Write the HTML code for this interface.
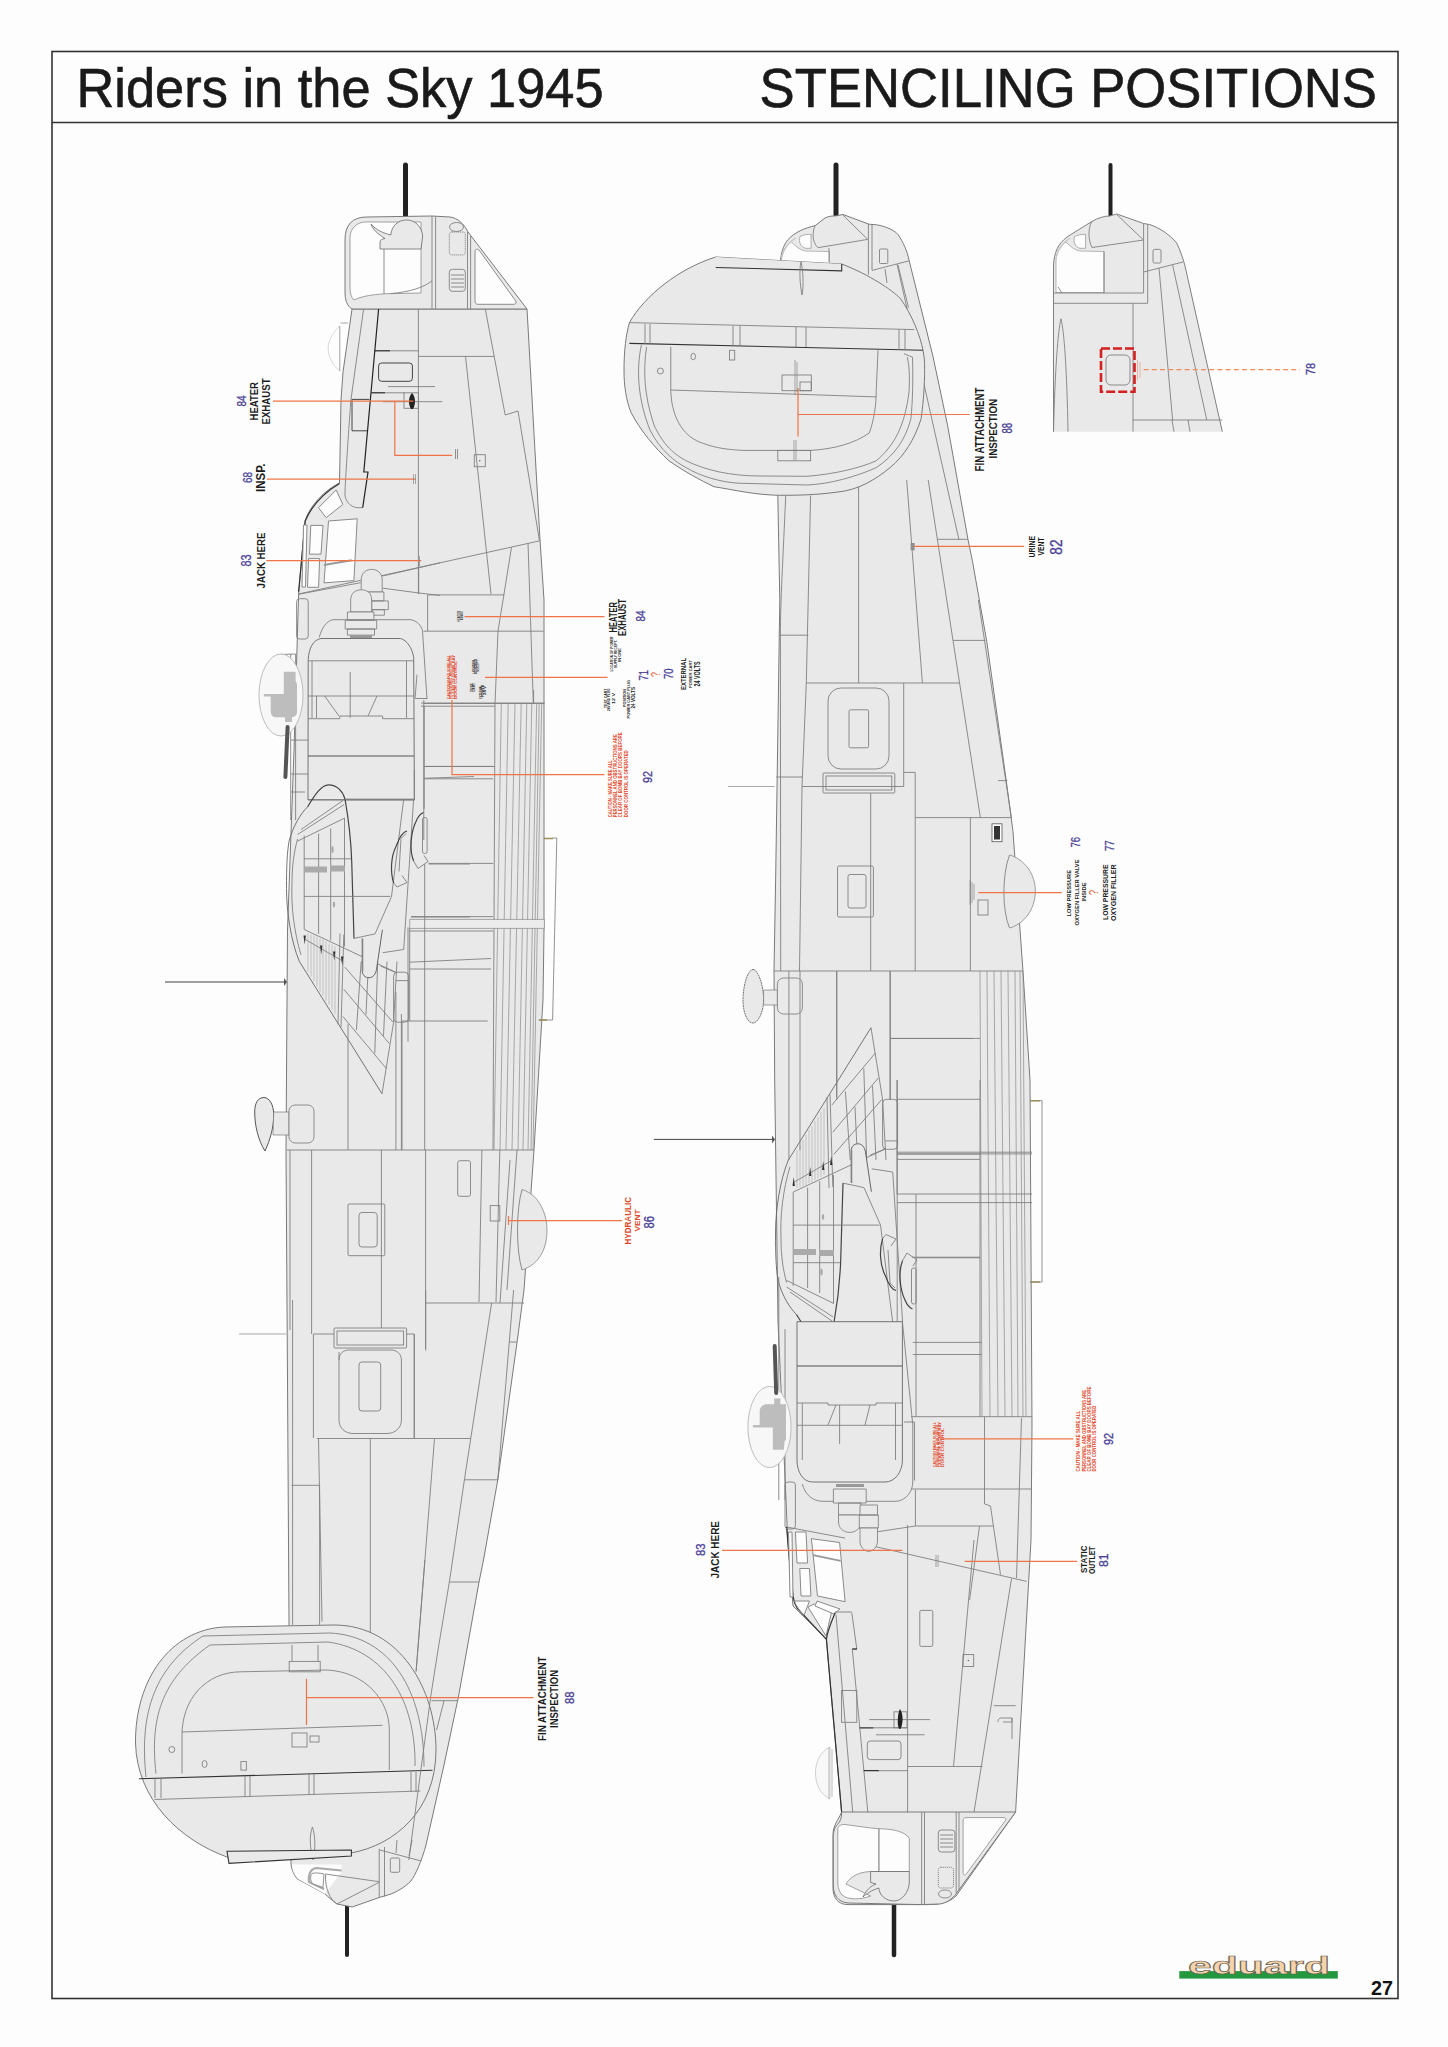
<!DOCTYPE html>
<html><head><meta charset="utf-8">
<style>
html,body{margin:0;padding:0;background:#fdfdfd;}
body{width:1448px;height:2047px;overflow:hidden;position:relative;}
svg{position:absolute;left:0;top:0;}
text{font-family:"Liberation Sans",sans-serif;}
.f{fill:#e9e9e9;stroke:#7a7a7a;stroke-width:1;}
.l{fill:none;stroke:#808080;stroke-width:0.9;}
.d{fill:none;stroke:#333;stroke-width:1.2;}
.w{fill:#fdfdfd;stroke:#8a8a8a;stroke-width:1;}
.o{fill:none;stroke:#ef7548;stroke-width:1.2;}
.b{fill:#4b3f9b;font-size:12px;}
text[fill="#4a4196"]{stroke:#4a4196;stroke-width:0.3;}
.t{fill:#1a1a1a;font-size:10px;font-weight:bold;}
.r{fill:#e55a2a;font-size:4px;font-weight:bold;}
.gun{stroke:#222;stroke-width:5;stroke-linecap:round;}
</style></head>
<body>
<svg width="1448" height="2047" viewBox="0 0 1448 2047">
<!-- FRAME -->
<rect x="52" y="51.5" width="1346" height="1947" fill="none" stroke="#333" stroke-width="1.6"/>
<line x1="52" y1="122.5" x2="1398" y2="122.5" stroke="#333" stroke-width="1.4"/>
<text transform="translate(76.5,107.3) scale(1,1.045)" font-size="52.4" fill="#1a1a1a" stroke="#1a1a1a" stroke-width="0.6">Riders in the Sky 1945</text>
<text transform="translate(1377,107.3) scale(1.005,1.045)" font-size="52.4" fill="#1a1a1a" stroke="#1a1a1a" stroke-width="0.6" text-anchor="end">STENCILING POSITIONS</text>

<!-- LEFT AIRCRAFT -->
<g id="L">
<line class="gun" x1="405.5" y1="165" x2="405.5" y2="220"/>
<line class="gun" x1="347" y1="1906" x2="347" y2="1955" style="stroke-width:4"/>
<!-- fuselage -->
<path class="f" d="M352,309 L527,309 L540,540 L544,600 L544,930 L543,1000 L534,1150 L524,1290 L517,1342.7 L497.8,1479.8 L483.5,1560 L479,1582 L458.6,1696 L444,1765 L426,1845 C422,1860 415,1876 410.9,1881 C404,1888 396,1892 391,1894 L379.2,1897.5 L352.2,1907 L337,1904 C332,1900 328,1897 325.2,1894 L297,1878.7 C293,1873 291,1868 291,1863 L289,1622 L287.5,1380 L286,1150 L287.5,930 L294,750 L298.6,594 L305,521 C310,505 325,490 339.5,483 L341,400 L343,372 Z"/>
<!-- nose turret -->
<path class="f" d="M352,309 C347,306 345,300 345,292 L345,240 C345,225 352,217 367,217 L432,216 L450,217 C458,218 464,224 468,232 L527,309 Z"/>
<path d="M354,300 C351,297 350,293 350,288 L350,238 C350,229 356,222 366,222 L421,222 L421,293 L390.8,293.6 C375,294 362,296 354,300 Z" fill="#fdfdfd" stroke="#8a8a8a" stroke-width="0.8"/>
<path d="M421,249 L380,249 L380,242 C380,240 382,239 385,238.5 C378,234 373,230 371,224 C376,230 383,233 390.8,235 C391.5,226 398,220 406.5,220 C415,220 421.5,226 422.7,236 L421,249 Z" fill="#e9e9e9" stroke="#6a6a6a" stroke-width="0.8"/>
<path class="l" d="M390.8,293.6 C410,292 425,287 432,280.7"/>
<line class="l" x1="384" y1="249" x2="384" y2="294"/>
<path class="l" d="M432,216 L432,309 M435.6,216.5 L435.6,309 M467.5,232 L467.5,309 M470.6,236 L470.6,309"/>
<path class="l" d="M475,252 C475,249 477,248.5 479,250 L515,300 C517,303 516,304.3 513,304.3 L478,304.3 C476,304.3 475,303 475,301 Z" style="fill:#fdfdfd"/>
<rect class="l" x="449.3" y="232" width="16" height="22.9" rx="2.5" style="stroke-dasharray:1.2 0.8"/>
<rect class="l" x="449.3" y="269.3" width="16" height="22" rx="3"/>
<path class="l" d="M451,275 H464 M451,279 H464 M451,283 H464 M451,287 H464"/>
<ellipse class="l" cx="456.5" cy="227" rx="7" ry="4.5"/>
<!-- fin -->
<path class="f" d="M224,1627 L334,1625 C400,1625 436,1690 436,1750 C436,1810 395,1845 351,1853 L227,1857 C180,1840 137,1800 135.5,1743 C135,1680 170,1630 224,1627 Z"/>
<path class="l" d="M146,1777 C140,1720 150,1670 203,1636 L330,1633 C390,1636 424,1690 424,1766.7 M156,1773.6 C150,1720 160,1680 210,1645 L328,1642 C385,1650 416,1700 415,1766"/>
<path class="l" d="M182,1773.6 V1735 C182,1700 205,1672 240.9,1671.8 L327.2,1670 C365,1672 389.3,1700 389.3,1730 V1770 M182,1732 L382.4,1725.3"/>
<circle class="l" cx="171.8" cy="1749.5" r="3"/><ellipse class="l" cx="204.6" cy="1764" rx="2.5" ry="3.5"/><rect class="l" x="240.9" y="1761.6" width="5.5" height="8.5"/>
<rect class="l" x="289.2" y="1661.4" width="31" height="10.4"/><path class="l" d="M292,1645 V1661 M318,1645 V1661"/>
<rect class="l" x="292" y="1733" width="15" height="14"/><rect class="l" x="310" y="1736" width="9" height="6"/>
<path d="M139,1778.8 L432.5,1770.2" stroke="#333" stroke-width="1.1"/>
<path class="l" d="M154.5,1799.5 L420.4,1791"/>
<path class="l" d="M155,1779 V1798 M161,1779 V1798 M245,1776 V1797 M250,1776 V1797 M309,1774 V1795 M314,1774 V1795 M411,1772 V1792 M416,1772 V1792"/>
<path class="l" d="M312.5,1827 C315,1835 316,1848 313,1860 C310,1848 309,1835 312.5,1827 Z"/>
<path d="M227,1851.3 L351.4,1850 L351.4,1856 L229,1863.4 Z" fill="#e9e9e9" stroke="#333" stroke-width="1.1"/>
<!-- top fuselage details -->
<path d="M340,326 C333,332 328.2,340 328.2,348.6 C328.2,357 333,366 340,371" fill="none" stroke="#cfcfcf" stroke-width="0.8"/><path d="M339.8,326 V371" stroke="#999" stroke-width="0.9"/><path d="M340.4,323 H348" stroke="#c8c8c8" stroke-width="1.6"/>
<path class="l" d="M363.6,309 L350.9,400 C348,440 346,470 345,492 C344,500 350,507 357,507.7 L362.7,507.7"/>
<path d="M378.6,309 L363.8,472 L368,472 L362.7,507.7" fill="none" stroke="#222" stroke-width="1.2"/>

<line class="l" x1="418.4" y1="309" x2="418.4" y2="594"/>
<path d="M375,350.8 L390,350.8" stroke="#222" stroke-width="1.2"/><path class="l" d="M390,350.8 L418.4,350.8"/>
<rect x="378.6" y="363" width="33.8" height="18.3" rx="3" fill="none" stroke="#444" stroke-width="1"/>
<path class="l" d="M388,386.6 L435,386.6 M382.6,401.7 L442.3,401.7"/>
<path d="M371.5,392.8 L385,392.8" stroke="#222" stroke-width="1.2"/><path class="l" d="M385,392.8 L404.7,392.8"/>
<rect class="l" x="404" y="392.8" width="14.4" height="15.5"/>
<path d="M412,393 C415,396 416,402 414,407 C413,410 411,410 410,407 C408,402 409,396 412,393 Z" fill="#222"/>
<path d="M352,399.4 L369.3,399.4 M352,399.4 L352,430.8 L367,430.8" fill="none" stroke="#444" stroke-width="1"/>
<path class="l" d="M418.4,356.4 L494.2,356.4 M465.5,356.4 L491,594 M485.3,309 L505.2,415 L518,411 L539.5,540.9 M427.6,594.9 H504.3 M427.6,594.9 V631.2 M423.5,631.2 H543.6 M511.5,547.3 L498,631.2 L495,703.7 M528,543 L533.3,703.7"/>
<rect class="l" x="474.3" y="454.7" width="11" height="12"/><circle cx="479.8" cy="460.8" r="0.7" fill="#555"/>
<path class="l" d="M455.5,449 V459 M457.5,449 V459" style="stroke-width:0.5"/>
<path class="l" d="M298.6,594 L539.5,540.9"/>
<!-- cockpit glazing -->
<path d="M339.5,483.4 C325,492 312,505 305.2,521 L298.6,591.7" fill="none" stroke="#333" stroke-width="1.2"/>
<path d="M318.5,507.7 L336.2,490 L342.8,504.4 L326.2,517.7 Z" class="w"/>
<path d="M328.5,521 L357.2,518.8 L353.9,580.6 L324,582.9 Z" class="w"/>
<path d="M310.8,525.4 L323,525.4 L321,554.1 L309.5,554.1 Z" class="w"/>
<path d="M308.6,558.6 L319.6,558.6 L318.6,587.3 L307.5,587.3 Z" class="w"/>
<path d="M303.5,525 L307,525 L305.5,587 L302,587 Z" class="w"/>
<path d="M324,565 L351.7,560.3" stroke="#999" stroke-width="2"/>
<!-- top turret domes -->
<path class="l" d="M298.2,594.3 L360.7,582.7 M382.8,576 L440,562.8 M382.8,588.2 L419,593 L440,595.4"/>
<path class="f" d="M361.2,592 L361.2,580 C361.2,573 366,569.4 371.7,569.4 C377.4,569.4 382.2,573 382.2,580 L382.2,592 Z" style="stroke:#777;stroke-width:0.8"/>
<path class="f" d="M368.4,592 H383.9 V600.9 H368.4 Z M371.7,600.9 H388.3 V609.7 H371.7 Z M372.3,609.7 H384.4 V615.2 H372.3 Z" style="stroke:#777;stroke-width:0.8"/>
<path class="f" d="M350.7,612 L350.7,600 C350.7,593 355.5,589.8 361.2,589.8 C367,589.8 371.7,593 371.7,600 L371.7,612 Z" style="stroke:#777;stroke-width:0.8"/>
<path class="f" d="M347.4,612 H373.9 V620.2 H347.4 Z M345.2,620.2 H376.7 V629 H345.2 Z M347.4,629 H374.5 V635.1 H347.4 Z" style="stroke:#777;stroke-width:0.8"/>
<rect x="350" y="635.1" width="22" height="3" fill="#999"/>
<rect class="l" x="296.6" y="598.7" width="11.6" height="40.3" rx="3"/>
<path class="l" d="M418.7,562 V594"/>
<!-- nacelle -->
<path class="l" d="M319.2,637.3 C322,628 326,621 333,619.7 L410.9,619.7 C417,621 421,625 422.5,630.7 L427,699"/>
<path class="f" d="M308.2,659.4 C309,648 313,640 320.9,638.5 L400.4,638.5 C407,640 412,648 413.7,657.2 L414.4,800 L308,800 Z" style="stroke:#666;stroke-width:0.9"/>
<path class="l" d="M308,660.8 H414 M308,696 H414 M308,718.7 H339.8 L339.8,716 H382.6 V718.7 H414 M312,660.8 V718 M316.5,696 V718 M406.5,660.8 V718 M350.2,672 V718 M324.6,696 L339,716 M377,696 L368,716"/>
<path d="M308,756 H414" stroke="#555" stroke-width="1.2"/>
<path class="l" d="M308,799.5 H414 M290.7,654 V820 M295.6,654 V820 M291,740.1 H308 M291,774 H308 M291,792 H305 M423.8,700 V840 M417,674.7 L415,698.5 H427 M424,703.5 H544 M425,766.4 H493 M425,778.8 H493 M280,654.5 L295.5,654"/>
<!-- mid section L -->
<path class="l" d="M421,703 H544.8 M421,706.2 H495 M495,703 L493,1150 M533.6,690 V703 M424,766.5 H495 M424,778.3 L474,776.5 M428.6,863.4 H493.2 M424.2,706 V809"/>
<g class="l" style="stroke:#8a8a8a;stroke-width:0.7">
<path d="M501.3,703 L494,1150 M508.2,703 L500,1150 M515,703 L506,1150 M521.2,703 L512,1150 M526.8,703 L518,1150 M531.8,703 L523,1150 M536.7,703 L528,1150 M539.2,703 L531,1150 M541.7,703 L533,1150"/>
</g>
<path d="M409.7,919.4 H544.4 V928.4 H409.7 Z" fill="#ececec" stroke="#888" stroke-width="0.7"/>
<path class="l" d="M411,916.6 H493 M409.7,931 H493 M409.7,962.2 L491,958.5 M409.7,969 H491 M402,1021 H487.7 M409.7,928 V1021 M402,1021 V1150 M395.9,992 V1150"/>
<path d="M552.6,838 L556.8,838 L552.6,1020 L538.8,1020" fill="none" stroke="#777" stroke-width="0.8"/>
<path d="M544,838.5 H553 M539,1020 H547" stroke="#9a9060" stroke-width="1.6"/>
<!-- wing L -->
<use href="#wing" transform="translate(-489,2121.5) scale(1,-1)"/>
<path class="l" d="M414.3,770 V799.7 M345.3,799.7 H414.3 M428.8,864 H470 M411,917 H470 M424.7,864 V1150"/>
<line x1="165" y1="982" x2="286" y2="982" stroke="#444" stroke-width="1"/>
<path d="M284,978 L287,982 L284,986 Z" fill="#555"/>
<!-- lower body L -->
<path d="M522,1189.5 C540,1195 547,1215 547,1230 C547,1248 540,1264 522,1270" fill="#e9e9e9" stroke="#888" stroke-width="0.8"/>
<path class="l" d="M522,1189.5 C516,1210 516,1250 522,1270"/>
<path class="l" d="M287,1150 H534 M290,1150 V1330 M311.6,1150 V1334 M348,1024 V1150 M381.4,1150 V1328 M401.4,1014 V1150 M425.6,1150 V1349 M481.9,1150 L479,1302 M499.8,1150 L496,1302 M425.6,1303 H524 M425.7,1290 V1350.6 M414.3,1334 V1438.5"/>
<path class="f" d="M264,1097.5 C269,1097.5 273.7,1104 273.7,1115 C273.7,1128 270,1140 265,1151 C258,1140 254.7,1125 254.7,1112 C254.7,1103 258,1097.5 264,1097.5 Z" style="stroke:#444;stroke-width:0.9"/>
<path class="f" d="M273.7,1112 H289 V1135 H273 Z" style="stroke:#777;stroke-width:0.7"/>
<rect class="f" x="289" y="1105" width="25" height="38" rx="6" style="stroke:#777;stroke-width:0.8"/>
<rect class="l" x="348" y="1204" width="36.8" height="51.7" rx="1"/>
<rect class="l" x="359" y="1212.5" width="18.2" height="34.5" rx="3"/>
<rect class="l" x="457.7" y="1160.7" width="12.8" height="35.6" rx="2"/>
<rect class="l" x="490.2" y="1205.6" width="9.6" height="15.4"/>
<path class="l" d="M510,1160 L500,1303 M517,1150 L507,1290"/>
<line x1="239" y1="1334" x2="286" y2="1334" stroke="#aaa" stroke-width="1.2"/>
<rect class="l" x="334" y="1328" width="72.6" height="20" rx="1"/>
<rect class="l" x="337" y="1331" width="66.6" height="14"/>
<path class="l" d="M313.4,1334 V1438 M414.2,1334 V1438 M313.4,1334 H334 M406.6,1334 H414.2"/>
<path class="l" d="M339,1352 V1420 C339,1428 345,1433.5 353,1433.5 L387,1433.5 C395,1433.5 401.4,1428 401.4,1420 V1360 C401.4,1354 397,1350 391,1350 L349,1350 C343,1350 339,1354 339,1360"/>
<rect class="l" x="359" y="1362" width="21.7" height="49" rx="3"/>
<path class="l" d="M316.8,1438.5 H470.5 M318.5,1438 L322,1621.7 M370.3,1438 V1632 M434.5,1438.5 L417.8,1650 L416.1,1671.4 M291.6,1485.3 H319.6 M319.6,1485.3 V1625 M292.6,1300 V1625 M513.6,1290 L497.8,1479.8 M509.2,1342 H517 M491.6,1303 L464.4,1479.8 L449.4,1581.8 L438,1650 L430.8,1696 L408.8,1860 M464.4,1479.8 H497.8 M449,1582 H479.1 M431.5,1700.7 H457.9 M444,1700.7 L436.6,1730 M424.9,1560 L416.1,1671.4"/>
<!-- tail turret L -->
<path d="M292,1864.5 L341.6,1864.5 L341.6,1872 L325,1894 L298,1879 C294,1874 292,1869 292,1864.5 Z" fill="#fdfdfd" stroke="none"/>
<path d="M341.6,1870.5 L316,1868 C310,1869 308,1876 309,1882 L324,1889" fill="none" stroke="#aaa" stroke-width="2.2"/>
<path d="M312,1873.5 C315,1872.5 320,1873 324,1874 L323,1887.5 L313,1884 C310,1881 310,1876 312,1873.5 Z" fill="#fdfdfd" stroke="#777" stroke-width="0.8"/>
<path class="l" d="M325,1874 L379.2,1881.7 M325.5,1875 C325,1888 330,1900 337,1904 L379.2,1882.3 M379.2,1848.8 V1897.5 M384.5,1847 V1896.5 M379.8,1850 L421.4,1861 M397,1840 L396,1853 M412,1840 L409,1856"/>
<rect class="l" x="390.3" y="1858" width="9.4" height="14.3" rx="1.5"/>
<!-- ball turret -->
<ellipse cx="281" cy="695" rx="22" ry="41" fill="#f7f7f7" stroke="#b5b5b5" stroke-width="0.9"/>
<path d="M283.8,671.8 H295.6 V681 L297,684 V712 C297,716 294,717.3 290,717.3 L276,717.3 C272,717.3 270.7,714 270.7,710 V696.6 H263.8 V693.9 H283.8 Z M285,717 H292 V722 H285 Z" fill="#bdbdbd"/>
<line x1="287.6" y1="727" x2="285.4" y2="777" stroke="#555" stroke-width="4" stroke-linecap="round"/>
</g>

<!-- RIGHT AIRCRAFT -->
<g id="R">
<line class="gun" x1="836" y1="165" x2="836" y2="215"/>
<line class="gun" x1="894" y1="1902" x2="894" y2="1955" style="stroke-width:4.5"/>
<path class="f" d="M780.7,258 C782,250 784,245 787.6,240 C795,232 805,228 815.2,225.6 L825,218 C829,216 832,216 836,215.9 L843,214.5 L869,224.2 L877.4,224.9 C888,227 895,231 898,234.5 C903,242 907,250 909.2,260.8 L933,356.5 L947.6,425.5 L968,539.5 L972.5,561.5 L986.8,641.7 L1006,778.8 L1013,831.5 L1023,971.5 L1030,1080 L1032,1425 L1031,1540 L1015.6,1812 L956,1896 C950,1902 940,1904.6 928.6,1904.6 L848,1904.6 C838,1904.6 833,1898 833,1888 L833,1835 C833,1825 838,1821 841.6,1812 L826.4,1639 L793,1606 L787.7,1540 L785,1477 L778,1322 L774.7,1080 L774,971 L775.7,876 L779.8,600 L777.8,495 Z"/>
<!-- tail turret R -->
<g transform="translate(-274.5,0)">
<path d="M1056,292.5 V262 C1056,252 1060,246 1066,242 C1070,246 1074,250 1080,251 L1104,251.5 V292.5 Z" fill="#fdfdfd" stroke="#999" stroke-width="0.7"/>
<path d="M1074.5,236.5 C1077,235 1082,234 1085.6,234.5 V248.3 L1080,248.3 C1075,247 1073,242 1074.5,236.5 Z" fill="#fdfdfd" stroke="#999" stroke-width="0.8"/>
<path d="M1056,258 C1058,248 1064,242 1070,238" fill="none" stroke="#c8c8c8" stroke-width="1.5"/>
</g>
<path class="l" d="M815.2,225.6 C812,232 812,242 818,247.7 L867.7,239.4 L843,215.2 M868.4,224 V274.6 M872,224.5 V270 M872,270.4 L909.2,260.8 M885,269 L887,283 M898,265 L908.5,307.7 M897,264 L959,540 M829,248 V262"/>
<rect class="l" x="879.5" y="249" width="8.3" height="14.5" rx="1"/>
<!-- fin R -->
<path class="f" d="M715.7,257 L841.7,264 C870,275 892,290 900.4,298.5 C912,315 920,335 923,350.3 C925,360 924.6,368 924.6,374.5 C924,395 923,405 921,419.3 C914,440 905,455 890,467.7 C875,480 858,490 838,492 C815,495 800,495.3 779.6,495.3 C755,495 735,490 714,486.7 C700,480 685,472 669,460.8 C655,448 640,430 631,412.4 C626,400 624,385 624,371 C624,350 626,335 629.4,322.6 C645,295 680,268 715.7,257 Z"/>
<path d="M715.7,257 L841.7,264 L841.7,270.9 L715.7,267.5 Z" fill="#e9e9e9" stroke="none"/>
<path d="M715.7,267.5 L841.7,270.9 L841.7,264" fill="none" stroke="#333" stroke-width="1.1"/>
<path class="l" d="M801,262 C803,270 804,285 802,295 C800,285 799,270 801,262 Z"/>
<path class="l" d="M629.4,322.6 L914.2,329.6"/>
<path d="M629.4,343.4 L922.9,350.3" stroke="#333" stroke-width="1.1"/>
<path class="l" d="M645,324 V344 M650,324 V344 M733,326 V346 M740,326 V346 M796,327 V347 M806,327 V347 M899,329 V350 M905,329 V350"/>
<path class="l" d="M641.4,345 C636,370 638,400 650,430 C660,450 675,462 686.3,467.7 C700,476 720,482 738,483.2 L807.2,485 C830,484 855,477 876.2,467.7 C895,455 905,440 910.8,419.3 C913,400 913,375 912.5,357.2 L903.9,353.7"/>
<path class="l" d="M646.6,346.8 C643,370 644,395 654,425 C663,445 675,455 686.3,460.8 C705,470 730,476 760,476 L807.2,476.3 C835,474 860,468 876.2,460.8 C895,445 905,425 909,391.7 C910,375 909,365 907.3,357.2"/>
<path class="l" d="M670.8,346.8 V391.7 C672,420 685,438 703.6,443.5 C715,448 730,450 745,450.4 L810.6,450.4 C835,449 855,443 869.3,433 C874,420 876.2,405 876.2,391.7 L878,350.3 M670.8,390 L876.2,396.9"/>
<circle class="l" cx="660.4" cy="371" r="3"/><ellipse class="l" cx="693.2" cy="356.5" rx="2.3" ry="3.3"/><rect class="l" x="729.5" y="350.3" width="5.2" height="9.7"/>
<rect class="l" x="782" y="375" width="29.3" height="15.7"/><rect class="l" x="800" y="382" width="11.3" height="8.7"/>
<rect class="l" x="777.8" y="450.4" width="32.8" height="10.4"/>
<path class="l" d="M785.7,495.7 C783,560 780.4,600 780.4,635 L780.7,971 M780.4,635.2 H808.4 M810.6,495.7 L806.3,683 L802,786.5 L799.5,971 M858.6,486.6 V683 M906.7,480 L922.4,683 M928.2,480 L980.4,817.7 M937.4,539.3 H968 M953,640.4 H985.4 M978.4,600 L1011.4,817.7 M806.3,683 H959.6 M903.7,683 V786.5 M776.3,777 H802.2 M998,780.6 H1007.3 M915.2,817.6 H1011.4 M970.4,817.6 V971 M903.7,772.4 H915.2 V971"/>
<rect x="911.2" y="543" width="3.5" height="7.4" fill="#999"/>
<!-- mid R -->
<rect class="l" x="828" y="688" width="61" height="81" rx="13"/>
<rect class="l" x="849" y="709.8" width="19.6" height="38" rx="1.5"/>
<path class="l" d="M802,786.5 H903.7"/>
<rect class="l" x="823" y="773" width="71.8" height="20" rx="1"/>
<rect class="l" x="826" y="776" width="65.8" height="14"/>
<rect class="l" x="837.5" y="866" width="35.9" height="51" rx="1.5"/>
<rect class="l" x="848" y="874.5" width="18" height="33.5" rx="2"/>
<path class="l" d="M870.7,793 V971 M774,971 H1023 M836.8,971 V1100 M890,971 V1100 M890,1038.5 H973"/>
<path class="l" d="M728,786.5 H774.7" style="stroke:#aaa;stroke-width:1.2"/>
<rect x="992" y="823.8" width="10" height="17.9" fill="#fdfdfd" stroke="#555" stroke-width="0.8"/>
<rect x="994" y="826" width="6" height="13.5" fill="#333"/>
<rect class="l" x="978" y="900" width="10" height="15"/>
<path d="M1010,855 C1030,862 1035.4,880 1035.4,891 C1035.4,905 1028,922 1010,928" fill="#e9e9e9" stroke="#888" stroke-width="0.8"/>
<path class="l" d="M1009.5,855 C1002,875 1002,910 1009.5,928"/>
<g class="l" style="stroke:#8a8a8a;stroke-width:0.7">
<path d="M980,971 L982,1417 M987,971 L990,1417 M994,971 L998,1417 M1001,971 L1005,1417 M1008,971 L1012,1417 M1015,971 L1018,1417 M1020,971 L1023,1417 M1023,971 L1026,1417"/>
</g>
<path class="f" d="M753,969.5 C758,969.5 763.6,985 763.6,1000 C763.6,1012 758,1023 753,1023 C747,1023 743,1012 743,1000 C743,985 748,969.5 753,969.5 Z" style="stroke:#555;stroke-width:0.8;stroke-dasharray:2 0.6"/>
<path class="f" d="M763.6,990 H777.4 V1005 H763.6 Z" style="stroke:#777;stroke-width:0.7"/>
<rect class="f" x="777.4" y="978" width="25" height="36" rx="6" style="stroke:#777;stroke-width:0.8"/>

<!-- nose R -->
<path d="M830,1747 C820,1752 815.5,1762 815.5,1773 C815.5,1784 820,1794 830,1799 Z" fill="#f8f8f8" stroke="#c5c5c5" stroke-width="0.8"/><path d="M829,1747 V1799 M832,1749 V1797" stroke="#aaa" stroke-width="0.8"/>
<path class="l" d="M786.6,1527 L845.1,1538.1 M869.4,1533 L915.4,1526 H993.3 M907.6,1525 V1812 M870.6,1545.5 L1026.7,1581.4"/>
<path d="M786.6,1527 L788.8,1553 L793.2,1597.2 C794,1602 795,1605 797,1608 L825.2,1638.1 L826.4,1639.4 L841.6,1812" fill="none" stroke="#333" stroke-width="1.2"/>
<path class="w" d="M795.4,1532 H806 L807.6,1563 H797 Z"/>
<path class="w" d="M799.8,1568.5 H809.5 L810.9,1596 H801 Z"/>
<path class="w" d="M811.4,1538.7 L839.6,1542.5 L845.1,1601.7 L817.5,1596 Z"/>
<path class="w" d="M788.5,1532 H792 L793,1597 H790 Z"/>
<path class="w" d="M794.5,1601 L809.5,1601 L804,1615 C800,1611 796,1606 794.5,1601 Z"/>
<path class="w" d="M808,1607 L814.2,1604 L831.9,1610.5 L826,1636 Z"/>
<path class="w" d="M817,1601 L840,1609 L834,1614 L815,1606 Z"/>
<path d="M813.1,1555.2 L840.7,1560.8" stroke="#999" stroke-width="1.8"/>
<path d="M835.2,1612.7 C830,1625 827,1632 826.4,1639.4" fill="none" stroke="#333" stroke-width="1.2"/>
<path class="l" d="M836,1614.6 L852.7,1812 M851.8,1612.7 L856.8,1649 L852.3,1649 L867.8,1812 M835,1612 H851.8"/>
<path d="M852.3,1649 H857" stroke="#333" stroke-width="1.2"/>
<rect class="l" x="841.6" y="1690.5" width="15.2" height="31.8"/>
<path d="M859.6,1727.8 H873.4 M863.7,1770.7 H878.9" stroke="#333" stroke-width="1.2"/>
<path class="l" d="M873,1727.8 H908 M878.9,1770.7 H908"/>
<rect class="l" x="867.3" y="1741" width="33.7" height="18.6" rx="3"/>
<path class="l" d="M869.2,1719.6 H930 M876,1734.8 H924.5"/>
<rect class="l" x="894" y="1711.8" width="13" height="16"/>
<path d="M900,1709 C903,1713 903.5,1722 901,1728 C899,1731 897.5,1726 897.8,1720 C898,1714 899,1711 900,1709 Z" fill="#222"/>
<path class="l" d="M974,1540 L953.5,1766.5 M1011.5,1578.7 L974,1812 M908,1766.5 H982.5 M993.7,1705.7 H1015.6"/>
<rect class="l" x="919.8" y="1610.4" width="13" height="36" rx="1.5"/>
<rect class="l" x="963" y="1654.6" width="10.7" height="11.9"/><circle cx="968.3" cy="1660.5" r="0.7" fill="#555"/>
<path class="l" d="M998,1722 C998,1718 1000,1718 1003,1718 L1012,1718 V1722 H1003 M1012,1718 V1739"/>
<!-- nose turret R -->
<path class="f" d="M841.6,1812 C842,1818 840,1822 837.5,1824.5 C834,1828 833.3,1833 833.3,1838.3 L833.3,1885.3 C833.3,1895 838,1902 848,1903 L920.3,1904.6 L939.7,1904 C947,1903 952,1899 956.2,1893.6 L1015.6,1812 Z"/>
<path d="M837.8,1830 C837.8,1826 840,1824.5 845,1824.5 L870.6,1828 L878.9,1828.7 L878.9,1871.5 L909.3,1871.5 L909.3,1838.3 C905,1832 895,1829 878.9,1828.7 L878.9,1871.5 L870.6,1871.5 C855,1872 848,1880 846,1884 L870.6,1896 C860,1900 848,1900 842,1895 C838,1890 837.8,1885 837.8,1880 Z" fill="#fdfdfd" stroke="#8a8a8a" stroke-width="0.8"/>
<path d="M870.6,1871.5 H909.3 V1882.5 C909,1892 902,1901 894,1901 C886,1901 879,1895 878.9,1888 C872,1890 866,1894 863,1897 C866,1890 871,1886 876,1884 L870.6,1882.5 Z" fill="#e9e9e9" stroke="#6a6a6a" stroke-width="0.8"/>
<path class="l" d="M921.7,1812 V1904 M924.5,1812 V1904 M956.2,1812 V1893 M959,1812 V1890"/>
<path d="M963.1,1821 C963.1,1818.5 964,1817.6 966,1817.6 L1003,1817.6 C1006,1817.6 1006.5,1819 1005,1821 L967,1873 C965,1876 963.1,1875.6 963.1,1872 Z" fill="#fdfdfd" stroke="#8a8a8a" stroke-width="0.8"/>
<rect class="l" x="938.3" y="1830" width="16.6" height="22" rx="3"/>
<path class="l" d="M940,1835 H953 M940,1839 H953 M940,1843 H953 M940,1847 H953"/>
<rect class="l" x="938.3" y="1867.3" width="15.2" height="20.7" rx="2.5" style="stroke-dasharray:1.2 0.8"/>
<ellipse class="l" cx="945" cy="1894" rx="6.5" ry="4"/>
<!-- wing R -->
<path class="l" d="M897.2,1080 V1321.7 M980,1080 V1416.7 M916,1194 V1416.7 M897,1194 H1032 M897,1202.6 H1032 M897,1154 H980 M897,1159.4 H980 M916,1257.8 H980 M912.8,1342.4 H982 M912.8,1354.5 H982 M911,1416.7 H1032 M911,1489 H1032 M984.5,1416.7 V1503.9 L990.5,1506 L1000.5,1574.6 M1021.5,1418 L1016.5,1578 M915.4,1489.5 V1526 M979.5,1526 L969.6,1600"/>

<path d="M1030,1100.7 H1042 V1282 H1030" fill="none" stroke="#777" stroke-width="0.8"/>
<path d="M1030,1100.7 H1040 M1030,1282 H1040" stroke="#9a9060" stroke-width="1.6"/>
<defs><g id="wing">
<path d="M871,1027.7 L788.4,1160 C780,1180 775.5,1210 775.5,1233 C775.5,1255 776,1268 778,1280 C782,1296 790,1308 796.5,1314.6" fill="none" stroke="#666" stroke-width="0.9"/>
<path d="M796.5,1314.6 C803,1325 810,1336.7 817.5,1336.7 C826,1336.7 832,1330 834,1322.4 C838,1300 840,1280 840.7,1260.5 L843,1183" fill="none" stroke="#444" stroke-width="1.2"/>
<path class="l" d="M871,1027.7 L882.6,1099.3 L886,1160 M790,1166.6 C783,1190 780,1215 781,1238.4 C781,1255 783,1270 786.6,1282.6"/>
<path class="l" d="M875.4,1052.9 L831.9,1105 M878.3,1078 L832.8,1132.2 M882,1099.3 L833.8,1154.4 M793.2,1192 L886,1148.6 M794.3,1182 L830.8,1161"/>
<path class="l" d="M863.8,1068.3 L866.7,1160 M845.4,1091.5 L850.2,1160 M855,1107 L857.5,1160 M872.5,1085.7 L876,1160 M830,1094.4 L832.8,1187 M827,1097 L829,1188"/>
<g class="l" style="stroke:#999;stroke-width:0.5"><path d="M797,1150 V1188 M800,1145 V1187 M803,1140 V1186 M806,1135 V1185 M809,1130 V1183 M812,1126 V1182 M815,1121 V1180 M818,1117 V1178 M821,1112 V1177 M824,1108 V1175"/></g>
<g fill="#333"><path d="M792.5,1186 l1.2,-9 l1.2,9 z M809,1176 l1.2,-9 l1.2,9 z M822,1170 l1.2,-9 l1.2,9 z M830,1165 l1.2,-9 l1.2,9 z"/></g>
<path class="l" d="M793.2,1225.1 H879.4 M793.2,1262.7 H840 M793.2,1192 V1286 M807.6,1187.6 V1288 M819.7,1181 V1293 M833.5,1175 V1303 M786.6,1280.4 L834,1303.6 M786.6,1287 L833,1316.9 M790,1292 L832,1321"/>
<g fill="#aaa"><rect x="794" y="1249" width="22" height="6"/><rect x="819" y="1250" width="15" height="6"/><ellipse cx="823" cy="1217" rx="1.2" ry="3"/><ellipse cx="821.5" cy="1272" rx="1.2" ry="3.5"/></g>
<path class="f" d="M851.2,1183 L851.2,1151 C851.2,1146.5 854,1143.8 858,1143.8 C862,1143.8 864.5,1147 865.5,1152 L871.4,1191.7" style="stroke:#555;stroke-width:0.9"/>
<path class="l" d="M843,1183.1 L864,1187.6 L880.5,1225 L892.7,1322.4 M871.7,1168.8 L892.7,1172 L902.6,1322 M851.8,1150 V1183 M885,1140.9 H897.6 M869.6,1155.4 L886,1148.6 M834,1322.4 H902.6 M897,1080 V1194.2"/>
<rect class="l" x="882.6" y="1099.3" width="15" height="50" rx="4"/>
<path d="M882.7,1238.4 C879,1250 880,1265 885,1275 C888,1283 892,1290 896,1290.3" fill="none" stroke="#444" stroke-width="1.2"/>
<path class="l" d="M882.7,1238.4 L886,1234.5 L896,1239 L891,1246 M888,1250 L890,1283 L895,1288"/>
<path d="M902.6,1260.5 C898,1272 900,1290 905,1300 C907,1305 910,1308 912.5,1309" fill="none" stroke="#444" stroke-width="1.2"/>
<path class="l" d="M902.6,1260.5 L907,1253 L917,1260 L913,1266"/>
<rect class="l" x="911.5" y="1268" width="4.6" height="36" rx="2"/>
</g></defs>
<use href="#wing"/>
<path class="l" d="M890.4,971 V1099.3 M836.7,971 V1097 M800,971 V1150 M788.9,971 V1160 M778.8,1277 V1500 M890,1038.4 H980 M897,1099.3 H980 M897,1152.2 H1032 M897,1153.9 H1032 M912,1257.2 H980"/>
<!-- nacelle R -->
<path class="f" d="M797,1321.7 H902.4 V1460 C902.4,1472 895,1482 885,1482 L812.6,1482 C803,1482 797,1472 797,1460 Z" style="stroke:#666;stroke-width:0.9"/>
<path d="M797,1366 H902.4" stroke="#555" stroke-width="1.2"/>
<path class="l" d="M797,1403 H828 V1405 H876 V1403 H902.4 M797,1425.3 H902.4 M802.3,1403 V1460 M895.5,1403 V1460 M839.6,1405 V1444 M828,1425 L836,1405 M865,1425 L870,1405 M902.4,1321.7 L912.8,1425 V1482 C912.8,1492 905,1501.3 895.5,1501.3 L823,1501.3 C812,1501.3 805,1494 802.3,1484 M904,1422 H914.5 V1480.6 M785,1329 V1500"/>
<path class="f" d="M833.4,1489 H866.2 V1503 H833.4 Z M838.5,1503 H861 V1515 H838.5 Z" style="stroke:#777;stroke-width:0.8"/>
<path class="f" d="M838.5,1515 H861 V1522 C861,1528 856,1532.4 849.7,1532.4 C843.5,1532.4 838.5,1528 838.5,1522 Z" style="stroke:#777;stroke-width:0.8"/>
<rect x="836" y="1484" width="28" height="3" fill="#999"/>
<path class="f" d="M860,1505 H877.5 V1515 H860 Z M859.3,1515 H878.3 V1528 H859.3 Z" style="stroke:#777;stroke-width:0.8"/>
<path class="f" d="M860,1528 H877.5 V1541 C877.5,1547 873,1551.3 868.8,1551.3 C864,1551.3 860,1547 860,1541 Z" style="stroke:#777;stroke-width:0.8"/>
<rect class="l" x="785" y="1482" width="10.4" height="47" rx="3"/>
<path class="l" d="M774.7,1139.4 H653.8" style="stroke:#444;stroke-width:1"/>
<path d="M772,1135.5 L775,1139.4 L772,1143.5 Z" fill="#555"/>
<ellipse cx="769.5" cy="1427" rx="21.6" ry="40.6" fill="#f7f7f7" stroke="#b5b5b5" stroke-width="0.9"/>
<path d="M783.8,1449.7 H772.8 V1427.6 H752.8 V1425 H759.7 V1411 C759.7,1407 763,1404.2 767,1404.2 L786,1404.2 V1440 L784.6,1441 Z M774.2,1398.5 H780.4 V1404.2 H774.2 Z" fill="#bdbdbd"/>
<line x1="774.7" y1="1346" x2="776.2" y2="1393" stroke="#555" stroke-width="4" stroke-linecap="round"/>

</g>

<!-- INSET -->
<g id="I">
<line class="gun" x1="1110.5" y1="165" x2="1110.5" y2="216" style="stroke-width:4"/>
<path d="M1053.5,431.7 L1053.5,266 C1054,252 1058,244 1067,237 L1091.8,221.5 C1098,218 1104,216 1110,216 L1116.7,214 L1143.6,223.5 L1149.8,224.6 C1160,228 1170,235 1176.7,243 C1180,250 1183,258 1185,266 L1222.3,431.7 Z" fill="#e9e9e9"/><path class="l" d="M1053.5,431.7 L1053.5,266 C1054,252 1058,244 1067,237 L1091.8,221.5 C1098,218 1104,216 1110,216 L1116.7,214 L1143.6,223.5 L1149.8,224.6 C1160,228 1170,235 1176.7,243 C1180,250 1183,258 1185,266 L1222.3,431.7" style="stroke-width:1"/>
<path d="M1056,292.5 V262 C1056,252 1060,246 1066,242 C1070,246 1074,250 1080,251 L1104,251.5 V292.5 Z" fill="#fdfdfd" stroke="#999" stroke-width="0.7"/>
<path d="M1074.5,236.5 C1077,235 1082,234 1085.6,234.5 V248.3 L1080,248.3 C1075,247 1073,242 1074.5,236.5 Z" fill="#fdfdfd" stroke="#999" stroke-width="0.8"/>
<path d="M1056,258 C1058,248 1064,242 1070,238" fill="none" stroke="#c8c8c8" stroke-width="1.5"/>
<path class="l" d="M1091.8,221.5 C1088,228 1088,240 1092,247.5 L1143.6,240 L1116.7,214.5"/>
<path class="l" d="M1104,251.5 V293 M1053.5,293 H1143.6 V223.5 M1053.5,303.3 H1147.7 V224.6 M1133,303.3 V431.7 M1133,420 H1222.3 M1159,268 L1172.6,420 M1172.6,265 L1206.8,420 M1143.6,272 L1183,262 M1058,287 L1062,293"/>
<rect class="l" x="1153" y="249.4" width="8" height="13.6" rx="1.5"/>
<path class="l" d="M1053.5,431.7 C1055,370 1058,330 1061,318.8 C1064,330 1067,370 1068,431.7"/>
<path class="l" d="M1172,420 L1174,431.7 M1188,420 L1190,431.7"/>
<rect x="1101" y="348.5" width="33.5" height="43.2" fill="none" stroke="#d42020" stroke-width="2.6" stroke-dasharray="9 3"/>
<rect class="l" x="1106" y="355" width="24" height="30" rx="5"/>
<path d="M1137.5,360 V380 M1140,362 V378" stroke="#e89070" stroke-width="0.6"/>
</g>

<!-- ANNOTATIONS -->
<g stroke="#ef7447" stroke-width="1.2" fill="none">
<path d="M273,401.2 H413.5 M394.8,401.2 V455.4 H452.2"/>
<path d="M266.8,479.2 H415.7"/>
<path d="M266.3,560.6 H421.3"/>
<path d="M464.5,616.7 H604.4"/>
<path d="M485,677.4 H607.5"/>
<path d="M452,700 V774.7 H604.4"/>
<path d="M508.5,1220.7 H622.1 M508.5,1216 V1225"/>
<path d="M306.5,1678.7 V1725 M306.5,1697.7 H533.5"/>
<path d="M798,388 V436.6 M798,414.5 H969.8"/>
<path d="M914,546.3 H1024"/>
<path d="M978.4,892.7 H1061.7"/>
<path d="M940.4,1438.8 H1073.4"/>
<path d="M722,1550.3 H902.4"/>
<path d="M964.6,1561.4 H1077.2"/>
<path d="M1143.6,369.6 H1300" stroke-dasharray="5 3.2" stroke="#f08a5a"/>
</g>
<text transform="translate(245.5,401.0) rotate(-90)" text-anchor="middle" font-size="12.21" font-weight="normal" textLength="11.15" lengthAdjust="spacingAndGlyphs" fill="#4a4196">84</text>
<text transform="translate(258.0,401.25) rotate(-90)" text-anchor="middle" font-size="10.48" font-weight="bold" textLength="38.51" lengthAdjust="spacingAndGlyphs" fill="#1c1c1c">HEATER</text>
<text transform="translate(270.0,401.5) rotate(-90)" text-anchor="middle" font-size="11.52" font-weight="bold" textLength="46.03" lengthAdjust="spacingAndGlyphs" fill="#1c1c1c">EXHAUST</text>
<text transform="translate(252.0,477.5) rotate(-90)" text-anchor="middle" font-size="12.93" font-weight="normal" textLength="11.0" lengthAdjust="spacingAndGlyphs" fill="#4a4196">68</text>
<text transform="translate(264.5,477.75) rotate(-90)" text-anchor="middle" font-size="12.93" font-weight="bold" textLength="28.54" lengthAdjust="spacingAndGlyphs" fill="#1c1c1c">INSP.</text>
<text transform="translate(251.0,560.5) rotate(-90)" text-anchor="middle" font-size="14.38" font-weight="normal" textLength="12.04" lengthAdjust="spacingAndGlyphs" fill="#4a4196">83</text>
<text transform="translate(265.0,560.5) rotate(-90)" text-anchor="middle" font-size="11.04" font-weight="bold" textLength="56.02" lengthAdjust="spacingAndGlyphs" fill="#1c1c1c">JACK HERE</text>
<text transform="translate(616.5,617.25) rotate(-90)" text-anchor="middle" font-size="10.1" font-weight="bold" textLength="30.51" lengthAdjust="spacingAndGlyphs" fill="#1c1c1c">HEATER</text>
<text transform="translate(626.0,617.5) rotate(-90)" text-anchor="middle" font-size="10.35" font-weight="bold" textLength="37.01" lengthAdjust="spacingAndGlyphs" fill="#1c1c1c">EXHAUST</text>
<text transform="translate(645.0,616.0) rotate(-90)" text-anchor="middle" font-size="12.94" font-weight="normal" textLength="11.13" lengthAdjust="spacingAndGlyphs" fill="#4a4196">84</text>
<text transform="translate(648.0,675.25) rotate(-90)" text-anchor="middle" font-size="12.21" font-weight="normal" textLength="10.61" lengthAdjust="spacingAndGlyphs" fill="#4a4196">71</text>
<text transform="translate(660.0,674.5) rotate(-90)" text-anchor="middle" font-size="13.59" font-weight="normal" textLength="5.0" lengthAdjust="spacingAndGlyphs" fill="#e8643c">?</text>
<text transform="translate(672.5,673.75) rotate(-90)" text-anchor="middle" font-size="12.92" font-weight="normal" textLength="10.54" lengthAdjust="spacingAndGlyphs" fill="#4a4196">70</text>
<text transform="translate(686.0,674.0) rotate(-90)" text-anchor="middle" font-size="6.46" font-weight="bold" textLength="32.02" lengthAdjust="spacingAndGlyphs" fill="#1c1c1c">EXTERNAL</text>
<text transform="translate(691.5,674.0) rotate(-90)" text-anchor="middle" font-size="3.88" font-weight="bold" textLength="28.06" lengthAdjust="spacingAndGlyphs" fill="#1c1c1c">POWER CART</text>
<text transform="translate(700.0,674.0) rotate(-90)" text-anchor="middle" font-size="8.68" font-weight="bold" textLength="25.02" lengthAdjust="spacingAndGlyphs" fill="#1c1c1c">24 VOLTS</text>
<text transform="translate(652.0,777.0) rotate(-90)" text-anchor="middle" font-size="13.63" font-weight="normal" textLength="12.05" lengthAdjust="spacingAndGlyphs" fill="#4a4196">92</text>
<text transform="translate(631.0,1220.75) rotate(-90)" text-anchor="middle" font-size="9.0" font-weight="bold" textLength="47.54" lengthAdjust="spacingAndGlyphs" fill="#e2482a">HYDRAULIC</text>
<text transform="translate(639.5,1220.5) rotate(-90)" text-anchor="middle" font-size="7.89" font-weight="bold" textLength="22.06" lengthAdjust="spacingAndGlyphs" fill="#e2482a">VENT</text>
<text transform="translate(654.0,1222.25) rotate(-90)" text-anchor="middle" font-size="14.38" font-weight="normal" textLength="12.58" lengthAdjust="spacingAndGlyphs" fill="#4a4196">86</text>
<text transform="translate(546.0,1698.75) rotate(-90)" text-anchor="middle" font-size="10.48" font-weight="bold" textLength="84.5" lengthAdjust="spacingAndGlyphs" fill="#1c1c1c">FIN  ATTACHMENT</text>
<text transform="translate(558.0,1699.0) rotate(-90)" text-anchor="middle" font-size="10.48" font-weight="bold" textLength="58.03" lengthAdjust="spacingAndGlyphs" fill="#1c1c1c">INSPECTION</text>
<text transform="translate(574.0,1697.75) rotate(-90)" text-anchor="middle" font-size="13.59" font-weight="normal" textLength="12.58" lengthAdjust="spacingAndGlyphs" fill="#4a4196">88</text>
<text transform="translate(984.0,429.5) rotate(-90)" text-anchor="middle" font-size="12.23" font-weight="bold" textLength="84.01" lengthAdjust="spacingAndGlyphs" fill="#1c1c1c">FIN  ATTACHMENT</text>
<text transform="translate(996.5,428.75) rotate(-90)" text-anchor="middle" font-size="10.07" font-weight="bold" textLength="59.53" lengthAdjust="spacingAndGlyphs" fill="#1c1c1c">INSPECTION</text>
<text transform="translate(1012.0,428.25) rotate(-90)" text-anchor="middle" font-size="14.35" font-weight="normal" textLength="10.63" lengthAdjust="spacingAndGlyphs" fill="#4a4196">88</text>
<text transform="translate(1034.5,546.75) rotate(-90)" text-anchor="middle" font-size="8.2" font-weight="bold" textLength="21.52" lengthAdjust="spacingAndGlyphs" fill="#1c1c1c">URINE</text>
<text transform="translate(1044.0,546.5) rotate(-90)" text-anchor="middle" font-size="8.68" font-weight="bold" textLength="18.04" lengthAdjust="spacingAndGlyphs" fill="#1c1c1c">VENT</text>
<text transform="translate(1061.5,547.0) rotate(-90)" text-anchor="middle" font-size="15.77" font-weight="normal" textLength="15.29" lengthAdjust="spacingAndGlyphs" fill="#4a4196">82</text>
<text transform="translate(1080.0,842.25) rotate(-90)" text-anchor="middle" font-size="13.63" font-weight="normal" textLength="10.55" lengthAdjust="spacingAndGlyphs" fill="#4a4196">76</text>
<text transform="translate(1071.0,893.25) rotate(-90)" text-anchor="middle" font-size="4.42" font-weight="bold" textLength="46.51" lengthAdjust="spacingAndGlyphs" fill="#1c1c1c">LOW PRESSURE</text>
<text transform="translate(1078.5,892.5) rotate(-90)" text-anchor="middle" font-size="5.89" font-weight="bold" textLength="66.02" lengthAdjust="spacingAndGlyphs" fill="#1c1c1c">OXYGEN FILLER VALVE</text>
<text transform="translate(1085.5,892.0) rotate(-90)" text-anchor="middle" font-size="4.42" font-weight="bold" textLength="19.08" lengthAdjust="spacingAndGlyphs" fill="#1c1c1c">INSIDE</text>
<text transform="translate(1097.5,892.5) rotate(-90)" text-anchor="middle" font-size="12.94" font-weight="normal" textLength="5.43" lengthAdjust="spacingAndGlyphs" fill="#e8643c">?</text>
<text transform="translate(1113.5,845.75) rotate(-90)" text-anchor="middle" font-size="12.94" font-weight="normal" textLength="10.55" lengthAdjust="spacingAndGlyphs" fill="#4a4196">77</text>
<text transform="translate(1107.5,892.25) rotate(-90)" text-anchor="middle" font-size="7.24" font-weight="bold" textLength="55.54" lengthAdjust="spacingAndGlyphs" fill="#1c1c1c">LOW  PRESSURE</text>
<text transform="translate(1116.0,892.75) rotate(-90)" text-anchor="middle" font-size="7.24" font-weight="bold" textLength="56.54" lengthAdjust="spacingAndGlyphs" fill="#1c1c1c">OXYGEN  FILLER</text>
<text transform="translate(1112.5,1439.0) rotate(-90)" text-anchor="middle" font-size="13.63" font-weight="normal" textLength="12.14" lengthAdjust="spacingAndGlyphs" fill="#4a4196">92</text>
<text transform="translate(1086.5,1559.25) rotate(-90)" text-anchor="middle" font-size="9.46" font-weight="bold" textLength="27.58" lengthAdjust="spacingAndGlyphs" fill="#1c1c1c">STATIC</text>
<text transform="translate(1095.0,1560.25) rotate(-90)" text-anchor="middle" font-size="8.57" font-weight="bold" textLength="27.56" lengthAdjust="spacingAndGlyphs" fill="#1c1c1c">OUTLET</text>
<text transform="translate(1108.0,1560.25) rotate(-90)" text-anchor="middle" font-size="13.59" font-weight="normal" textLength="13.55" lengthAdjust="spacingAndGlyphs" fill="#4a4196">81</text>
<text transform="translate(704.5,1549.75) rotate(-90)" text-anchor="middle" font-size="13.59" font-weight="normal" textLength="12.55" lengthAdjust="spacingAndGlyphs" fill="#4a4196">83</text>
<text transform="translate(719.0,1549.75) rotate(-90)" text-anchor="middle" font-size="10.07" font-weight="bold" textLength="57.51" lengthAdjust="spacingAndGlyphs" fill="#1c1c1c">JACK HERE</text>
<text transform="translate(1314.5,369.0) rotate(-90)" text-anchor="middle" font-size="13.63" font-weight="normal" textLength="12.16" lengthAdjust="spacingAndGlyphs" fill="#4a4196">78</text>
<text transform="translate(611.6,817.2) rotate(-90)" font-size="5.4" font-weight="bold" textLength="57" lengthAdjust="spacingAndGlyphs" fill="#e2482a">CAUTION - MAKE SURE ALL</text>
<text transform="translate(616.9,817.2) rotate(-90)" font-size="5.4" font-weight="bold" textLength="83" lengthAdjust="spacingAndGlyphs" fill="#e2482a">PERSONNEL AND OBSTRUCTIONS ARE</text>
<text transform="translate(622.2,817.2) rotate(-90)" font-size="5.4" font-weight="bold" textLength="85" lengthAdjust="spacingAndGlyphs" fill="#e2482a">CLEAR OF BOMB BAY DOORS BEFORE</text>
<text transform="translate(627.5,817.2) rotate(-90)" font-size="5.4" font-weight="bold" textLength="67" lengthAdjust="spacingAndGlyphs" fill="#e2482a">DOOR CONTROL IS OPERATED</text>
<text transform="translate(1080.3,1471.6) rotate(-90)" font-size="5.4" font-weight="bold" textLength="60.7" lengthAdjust="spacingAndGlyphs" fill="#e2482a">CAUTION - MAKE SURE ALL</text>
<text transform="translate(1085.6,1471.6) rotate(-90)" font-size="5.4" font-weight="bold" textLength="81.6" lengthAdjust="spacingAndGlyphs" fill="#e2482a">PERSONNEL AND OBSTRUCTIONS ARE</text>
<text transform="translate(1090.9,1471.6) rotate(-90)" font-size="5.4" font-weight="bold" textLength="85" lengthAdjust="spacingAndGlyphs" fill="#e2482a">CLEAR OF BOMB BAY DOORS BEFORE</text>
<text transform="translate(1096.2,1471.6) rotate(-90)" font-size="5.4" font-weight="bold" textLength="66" lengthAdjust="spacingAndGlyphs" fill="#e2482a">DOOR CONTROL IS OPERATED</text>
<text transform="translate(612.6,671.6) rotate(-90)" font-size="3.3" font-weight="bold" textLength="35" lengthAdjust="spacingAndGlyphs" fill="#222">LOCATION OF POWER</text>
<text transform="translate(616.6,668) rotate(-90)" font-size="3.3" font-weight="bold" textLength="28" lengthAdjust="spacingAndGlyphs" fill="#222">SUPPLY RECEPT.</text>
<text transform="translate(620.7,662) rotate(-90)" font-size="3.3" font-weight="bold" textLength="14" lengthAdjust="spacingAndGlyphs" fill="#222">IN ONE</text>
<text transform="translate(606.5,708) rotate(-90)" font-size="3.3" font-weight="bold" textLength="19.4" lengthAdjust="spacingAndGlyphs" fill="#222">TEST CART</text>
<text transform="translate(610.2,711) rotate(-90)" font-size="3.3" font-weight="bold" textLength="22.4" lengthAdjust="spacingAndGlyphs" fill="#222">24V AND PLUG</text>
<text transform="translate(614.9,704) rotate(-90)" font-size="3.3" font-weight="bold" textLength="11" lengthAdjust="spacingAndGlyphs" fill="#222">12 V</text>
<text transform="translate(626,707) rotate(-90)" font-size="3.3" font-weight="bold" textLength="18" lengthAdjust="spacingAndGlyphs" fill="#222">POSITION</text>
<text transform="translate(630,718.4) rotate(-90)" font-size="3.3" font-weight="bold" textLength="38.4" lengthAdjust="spacingAndGlyphs" fill="#222">POWER CART PLUG</text>
<text transform="translate(635.2,708.5) rotate(-90)" font-size="5" font-weight="bold" textLength="21.5" lengthAdjust="spacingAndGlyphs" fill="#222">24 VOLTS</text>
<text transform="translate(460.2,622) rotate(-90)" font-size="2.6" font-weight="bold" textLength="11" lengthAdjust="spacingAndGlyphs" fill="#333">HEATER</text>
<text transform="translate(462.6,620) rotate(-90)" font-size="2.6" font-weight="bold" textLength="9" lengthAdjust="spacingAndGlyphs" fill="#333">EXHAUST</text>
<text transform="translate(474.6,673.5) rotate(-90)" font-size="2.6" font-weight="bold" textLength="13.5" lengthAdjust="spacingAndGlyphs" fill="#333">LOCATION</text>
<text transform="translate(477,674) rotate(-90)" font-size="2.6" font-weight="bold" textLength="15" lengthAdjust="spacingAndGlyphs" fill="#333">OF POWER</text>
<text transform="translate(479.4,672) rotate(-90)" font-size="2.6" font-weight="bold" textLength="12" lengthAdjust="spacingAndGlyphs" fill="#333">RECEPT</text>
<text transform="translate(472.8,692) rotate(-90)" font-size="2.6" font-weight="bold" textLength="9" lengthAdjust="spacingAndGlyphs" fill="#333">TEST</text>
<text transform="translate(475.2,692) rotate(-90)" font-size="2.6" font-weight="bold" textLength="9" lengthAdjust="spacingAndGlyphs" fill="#333">CART</text>
<text transform="translate(481.5,699) rotate(-90)" font-size="2.6" font-weight="bold" textLength="14" lengthAdjust="spacingAndGlyphs" fill="#333">EXTERNAL</text>
<text transform="translate(484,697) rotate(-90)" font-size="2.6" font-weight="bold" textLength="12" lengthAdjust="spacingAndGlyphs" fill="#333">POWER</text>
<text transform="translate(486.4,695) rotate(-90)" font-size="2.6" font-weight="bold" textLength="9" lengthAdjust="spacingAndGlyphs" fill="#333">24 V</text>
<text transform="translate(449.6,699) rotate(-90)" font-size="2.7" font-weight="bold" textLength="44" lengthAdjust="spacingAndGlyphs" fill="#e2482a">CAUTION MAKE SURE ALL</text>
<text transform="translate(452.2,699) rotate(-90)" font-size="2.7" font-weight="bold" textLength="44" lengthAdjust="spacingAndGlyphs" fill="#e2482a">PERSONNEL AND OBSTR.</text>
<text transform="translate(454.8,699) rotate(-90)" font-size="2.7" font-weight="bold" textLength="44" lengthAdjust="spacingAndGlyphs" fill="#e2482a">CLEAR OF BOMB BAY</text>
<text transform="translate(457.4,699) rotate(-90)" font-size="2.7" font-weight="bold" textLength="38" lengthAdjust="spacingAndGlyphs" fill="#e2482a">DOOR CONTROL</text>
<text transform="translate(936,1467) rotate(-90)" font-size="2.7" font-weight="bold" textLength="45" lengthAdjust="spacingAndGlyphs" fill="#e2482a">CAUTION MAKE SURE ALL</text>
<text transform="translate(938.6,1467) rotate(-90)" font-size="2.7" font-weight="bold" textLength="43" lengthAdjust="spacingAndGlyphs" fill="#e2482a">PERSONNEL AND OBSTR.</text>
<text transform="translate(941.2,1467) rotate(-90)" font-size="2.7" font-weight="bold" textLength="45" lengthAdjust="spacingAndGlyphs" fill="#e2482a">CLEAR OF BOMB BAY</text>
<text transform="translate(943.8,1467) rotate(-90)" font-size="2.7" font-weight="bold" textLength="39" lengthAdjust="spacingAndGlyphs" fill="#e2482a">DOOR CONTROL</text>
<!-- tiny stencils -->
<g stroke="#777" stroke-width="0.6">
<path d="M455.5,449 V459 M457.5,449 V459 M413.5,474 V484 M415.5,474 V484 M419.5,556 V566"/>


<path d="M795,360 V395 M797,362 V392 M794,440 V460 M796,440 V460 M911,543 V550 M913,543 V550 M970,880 V905 M972,882 V903 M974,884 V900 M936,1555 V1567 M938,1555 V1567"/>
</g>
<g stroke="#e86040" stroke-width="0.7">

</g>
<!-- LOGO -->
<rect x="1179.3" y="1971.1" width="158.5" height="7.5" fill="#23983f"/>
<text x="1188" y="1973.6" font-size="23.5" font-weight="bold" fill="#f4d4ac" stroke="#6e5f50" stroke-width="0.7" textLength="142" lengthAdjust="spacingAndGlyphs">eduard</text>
<text x="1393" y="1994.8" font-size="19.8" font-weight="bold" fill="#111" text-anchor="end">27</text>
</svg>
</body></html>
